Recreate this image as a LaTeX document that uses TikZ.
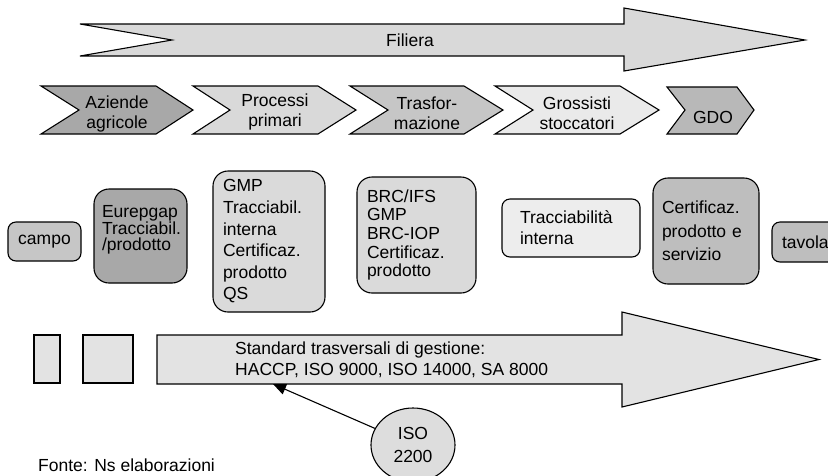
\documentclass[tikz,border=0pt]{standalone}
\usepackage{fontspec}
\setmainfont{Liberation Sans}
\usetikzlibrary{arrows.meta,shapes.geometric}
\definecolor{filC}{HTML}{D9D9D9}
\definecolor{azC}{HTML}{A8A8A8}
\definecolor{prC}{HTML}{D9D9D9}
\definecolor{trC}{HTML}{C6C6C6}
\definecolor{grC}{HTML}{EAEAEA}
\definecolor{gdC}{HTML}{B8B8B8}
\definecolor{campoC}{HTML}{C6C6C6}
\definecolor{euC}{HTML}{A8A8A8}
\definecolor{gmC}{HTML}{DADADA}
\definecolor{trbC}{HTML}{EDEDED}
\definecolor{ceC}{HTML}{BEBEBE}
\definecolor{stdC}{HTML}{E3E3E3}
\definecolor{isoC}{HTML}{DDDDDD}
\begin{document}
\begin{tikzpicture}[x=1pt,y=-1pt,
  shp/.style={draw=black, line width=1.1pt, line join=miter},
  lbl/.style={font=\fontsize{17.5}{20.5}\selectfont, align=center, inner sep=0pt},
  rbox/.style={draw=black, line width=1.1pt, rounded corners=#1, align=left, inner ysep=0pt},
  fs/.style={font=\fontsize{17.5}{#1}\selectfont},
]
\clip (0,0) rectangle (828,475);
\fill[white] (0,0) rectangle (828,475);

% Filiera arrow
\draw[shp, fill=filC] (80,24) -- (624,24) -- (624,8) -- (805,40) -- (624,71) -- (624,56) -- (80,56) -- (172,40) -- cycle;
\node[lbl] (filiera) at (410,40) {Filiera};

% chevrons
\draw[shp, fill=azC] (41,86) -- (156,86) -- (193,110) -- (156,134) -- (41,134) -- (79,110) -- cycle;
\node[lbl] (aziende) at (117,114) {Aziende\\agricole};
\draw[shp, fill=prC] (193,86) -- (318,86) -- (356,110) -- (318,134) -- (193,134) -- (230,110) -- cycle;
\node[lbl] (processi) at (275,112) {Processi\\primari};
\draw[shp, fill=trC] (350,86) -- (464,86) -- (503,110) -- (464,134) -- (350,134) -- (388,110) -- cycle;
\node[lbl] (trasf) at (427,113) {Trasfor-\\mazione};
\draw[shp, fill=grC] (495,86) -- (620,86) -- (659,110) -- (620,134) -- (495,134) -- (533,110) -- cycle;
\node[lbl] (gross) at (577,113) {Grossisti\\stoccatori};
\draw[shp, fill=gdC] (667,87) -- (737,87) -- (754,110) -- (737,134) -- (667,134) -- (685,110) -- cycle;
\node[lbl] (gdo) at (713,117) {GDO};

% boxes
\node[rbox=8pt, fill=campoC, align=center, minimum width=73pt, minimum height=39pt, fs=20] (campo) at (44.5,241.5) {campo};
\node[rbox=15pt, fill=euC, minimum width=93pt, minimum height=94pt, text width=77pt, inner xsep=8pt, fs=16] (eurep) at (140.5,236) {Eurepgap\\Tracciabil.\\/prodotto\\\mbox{}};
\node[rbox=15pt, fill=gmC, minimum width=112pt, minimum height=141pt, text width=92pt, inner xsep=10pt, fs=21.6] (gmp) at (269,241.5) {GMP\\Tracciabil.\\interna\\Certificaz.\\prodotto\\QS};
\node[rbox=15pt, fill=gmC, minimum width=119pt, minimum height=116pt, text width=99pt, inner xsep=10pt, fs=18.6] (brc) at (416.5,235) {BRC/IFS\\GMP\\BRC-IOP\\Certificaz.\\prodotto};
\node[rbox=8pt, fill=trbC, minimum width=138pt, minimum height=58pt, text width=102pt, inner xsep=18pt, fs=21] (tracc) at (571,228) {Tracciabilità\\interna};
\node[rbox=15pt, fill=ceC, minimum width=106pt, minimum height=106pt, text width=88pt, inner xsep=9pt, fs=23.5] (cert) at (706,231) {Certificaz.\\prodotto e\\servizio};
\node[rbox=8pt, fill=ceC, minimum width=78pt, minimum height=40pt, text width=58pt, inner xsep=10pt, fs=20] (tavola) at (811,242) {tavola};

% small rectangles
\node[draw=black, line width=1.1pt, fill=stdC, minimum width=26pt, minimum height=48pt, inner sep=0pt] (r1) at (47,359) {};
\node[draw=black, line width=1.1pt, fill=stdC, minimum width=50pt, minimum height=48pt, inner sep=0pt] (r2) at (108,359) {};

% standard arrow
\draw[shp, fill=stdC] (157,335) -- (622,335) -- (622,312) -- (819,359.5) -- (622,407) -- (622,384) -- (157,384) -- cycle;
\node[lbl, align=left, anchor=west] (std) at (235,360) {Standard trasversali di gestione:\\HACCP, ISO 9000, ISO 14000, SA 8000};
\coordinate (stdpt) at (273,384);

% ISO ellipse
\node[ellipse, draw=black, line width=1.1pt, fill=isoC, minimum width=84pt, minimum height=74pt, inner sep=0pt, align=center, fs=23] (iso) at (413,445) {ISO\\2200};
\draw[line width=1.1pt, -{Triangle[length=13pt,width=11pt]}] (iso) -- (stdpt);

\node[anchor=west, inner sep=0pt, fs=20] (fonte) at (38,465) {Fonte: Ns elaborazioni};
\end{tikzpicture}
\end{document}
